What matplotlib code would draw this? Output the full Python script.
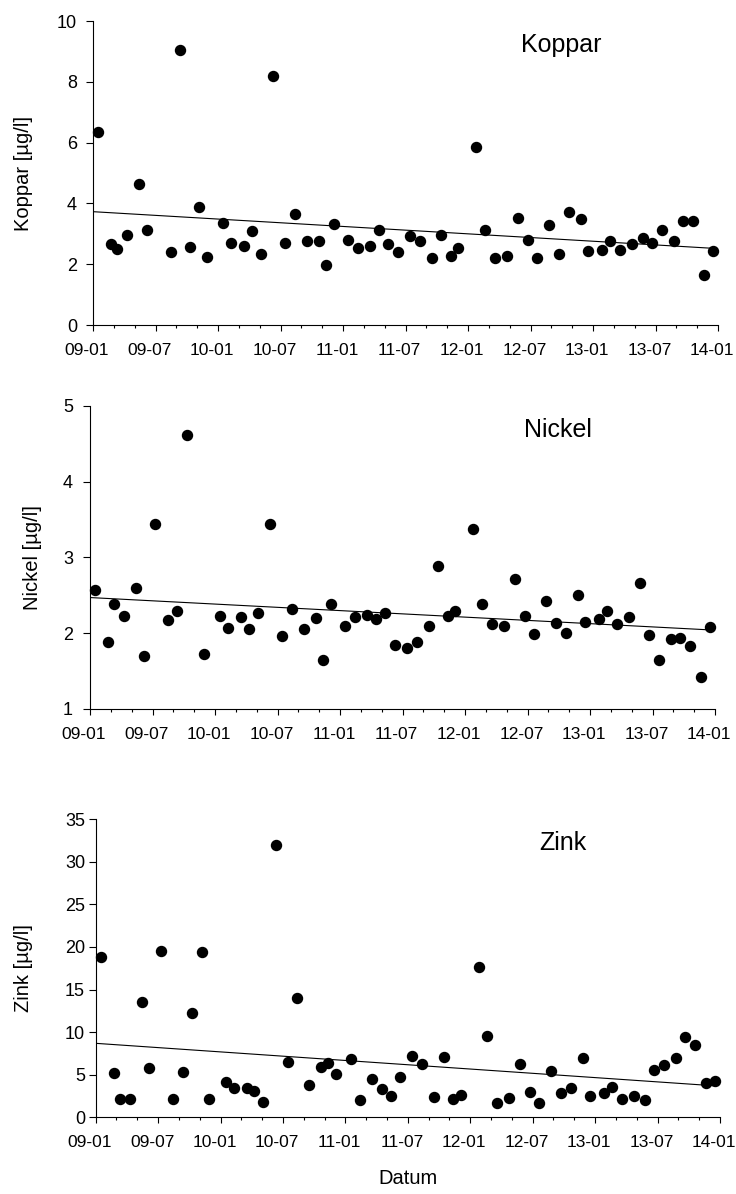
import numpy as np
import matplotlib.pyplot as plt
from matplotlib.ticker import MultipleLocator
from matplotlib.transforms import ScaledTranslation

plt.rcParams['font.family'] = ['Liberation Sans', 'DejaVu Sans']

# sampling dates, months after 2009-01-01
months = [0.5, 1.75, 2.34, 3.3, 4.42, 5.16, 6.28, 7.47, 8.35, 9.27,
          10.22, 10.91, 12.5, 13.27, 14.53, 15.23, 16.12, 17.29, 18.47, 19.35,
          20.54, 21.65, 22.35, 23.12, 24.51, 25.43, 26.58, 27.5, 28.36, 29.27,
          30.43, 31.37, 32.56, 33.43, 34.34, 35.08, 36.81, 37.64, 38.58, 39.73,
          40.8, 41.76, 42.65, 43.77, 44.74, 45.72, 46.81, 47.52, 48.82, 49.59,
          50.63, 51.78, 52.8, 53.7, 54.62, 55.73, 56.66, 57.61, 58.66, 59.5]

koppar = [6.35, 2.65, 2.51, 2.96, 4.65, 3.13, np.nan, 2.41, 9.04, 2.58,
          3.87, 2.23, 3.36, 2.71, 2.59, 3.10, 2.34, 8.18, 2.69, 3.66,
          2.77, 2.77, 1.97, 3.32, 2.79, 2.53, 2.60, 3.13, 2.67, 2.39,
          2.93, 2.77, 2.21, 2.97, 2.28, 2.52, 5.86, 3.13, 2.20, 2.27,
          3.52, 2.81, 2.20, 3.30, 2.34, 3.72, 3.49, 2.42, 2.46, 2.75,
          2.47, 2.67, 2.86, 2.71, 3.13, 2.76, 3.42, 3.43, 1.64, 2.44]

nickel = [2.57, 1.89, 2.38, 2.23, 2.60, 1.70, 3.44, 2.18, 2.30, 4.62,
          np.nan, 1.73, 2.23, 2.07, 2.22, 2.06, 2.27, 3.44, 1.97, 2.32,
          2.06, 2.20, 1.65, 2.38, 2.09, 2.21, 2.24, 2.19, 2.27, 1.84,
          1.80, 1.88, 2.09, 2.89, 2.23, 2.30, 3.38, 2.38, 2.12, 2.10,
          2.71, 2.23, 1.99, 2.42, 2.13, 2.00, 2.50, 2.15, 2.19, 2.30,
          2.12, 2.21, 2.66, 1.98, 1.65, 1.92, 1.94, 1.83, 1.42, 2.08]

zink = [18.85, 5.16, 2.11, 2.11, 13.53, 5.75, 19.55, 2.11, 5.35, 12.24,
        19.36, 2.11, 4.11, 3.40, 3.40, 3.09, 1.83, 32.0, 6.49, 14.04,
        3.79, 5.87, 6.37, 5.04, 6.81, 1.99, 4.50, 3.36, 2.46, 4.73,
        7.23, 6.22, 2.38, 7.12, 2.11, 2.58, 17.64, 9.54, 1.68, 2.27,
        6.26, 2.93, 1.72, 5.47, 2.81, 3.44, 7.00, 2.46, 2.89, 3.52,
        2.15, 2.54, 2.03, 5.55, 6.10, 6.96, 9.42, 8.45, 4.06, 4.30]

tick_labels = ['09-01', '09-07', '10-01', '10-07', '11-01', '11-07',
               '12-01', '12-07', '13-01', '13-07', '14-01']

panels = [
    # name, values, ylim, ystep, axes rect, y tick pad, y label x
    ('Koppar', koppar, (0, 10), 2, [0.1264, 0.7278, 0.8492, 0.2546], 6.5, -0.096),
    ('Nickel', nickel, (1, 5), 1, [0.1223, 0.4062, 0.8492, 0.2538], 7.2, -0.077),
    ('Zink', zink, (0, 35), 5, [0.1300, 0.0642, 0.8482, 0.2498], 2.7, -0.100),
]

fig = plt.figure(figsize=(7.36, 11.94), dpi=100)
shift = ScaledTranslation(-6 / 100, 0, fig.dpi_scale_trans)

for name, values, ylim, ystep, rect, ypad, labx in panels:
    ax = fig.add_axes(rect)
    x = np.array(months)
    y = np.array(values)
    ok = ~np.isnan(y)

    ax.plot(x[ok], y[ok], 'o', color='black', markersize=7.2, clip_on=False, zorder=3)

    # linear trend line
    k, m = np.polyfit(x[ok], y[ok], 1)
    xt = np.array([0, x[ok][-1]])
    ax.plot(xt, k * xt + m, color='black', linewidth=0.8, zorder=2)

    ax.set_xlim(0, 60)
    ax.set_ylim(*ylim)
    ax.set_xticks(np.arange(0, 61, 6))
    ax.set_xticklabels(tick_labels)
    ax.xaxis.set_minor_locator(MultipleLocator(2))
    ax.yaxis.set_major_locator(MultipleLocator(ystep))

    for s in ['top', 'right']:
        ax.spines[s].set_visible(False)
    for s in ['left', 'bottom']:
        ax.spines[s].set_linewidth(0.8)

    ax.tick_params(axis='x', which='major', length=4.5, width=0.8, labelsize=12.5, pad=8.3)
    ax.tick_params(axis='x', which='minor', length=2.2, width=0.8)
    ax.tick_params(axis='y', which='major', length=5, width=0.8, labelsize=13, pad=ypad)
    for lab in ax.get_xticklabels():
        lab.set_transform(lab.get_transform() + shift)

    ax.set_ylabel(f'{name} [µg/l]', fontsize=14.5)
    ax.yaxis.set_label_coords(labx, 0.5)
    ax.text(0.749, 0.92, name, transform=ax.transAxes, fontsize=18,
            ha='center', va='center')

fig.text(0.554, 1 - 1178 / 1194, 'Datum', fontsize=14.5, ha='center', va='center')

plt.savefig('out.png', dpi=100)
